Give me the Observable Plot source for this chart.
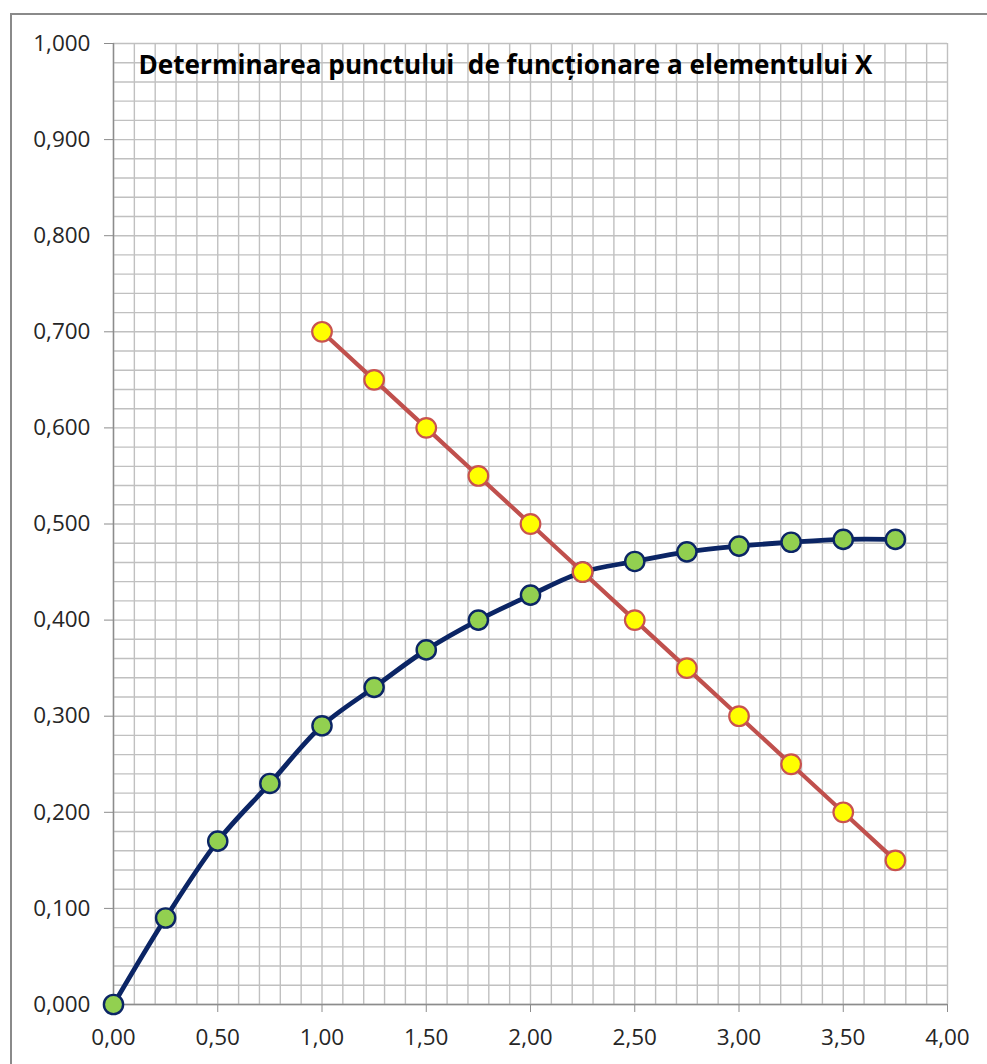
<!DOCTYPE html>
<html>
<head>
<meta charset="utf-8">
<script src="https://cdn.jsdelivr.net/npm/d3@7"></script>
<script src="https://cdn.jsdelivr.net/npm/@observablehq/plot@0.6"></script>
<style>
  html, body { margin: 0; padding: 0; background: #fff; overflow: hidden; }
  #wrap { position: relative; width: 987px; height: 1064px; }
  #frame { position: absolute; left: 10px; top: 13px; width: 1100px; height: 1200px;
           border: 2px solid #8a8a8a; pointer-events: none; }
</style>
</head>
<body>
<div id="wrap"><div id="frame"></div></div>
<script>
// Current through the element X (characteristic) and through the load line
const elementX = [0, 0.25, 0.5, 0.75, 1.0, 1.25, 1.5, 1.75, 2.0, 2.25, 2.5, 2.75, 3.0, 3.25, 3.5, 3.75];
const elementY = [0, 0.09, 0.17, 0.23, 0.29, 0.33, 0.369, 0.40, 0.426, 0.45, 0.461, 0.471, 0.477, 0.481, 0.484, 0.484];
const loadX = [1.0, 1.25, 1.5, 1.75, 2.0, 2.25, 2.5, 2.75, 3.0, 3.25, 3.5, 3.75];
const loadY = [0.70, 0.65, 0.60, 0.55, 0.50, 0.45, 0.40, 0.35, 0.30, 0.25, 0.20, 0.15];

const xTicks = [0, 0.5, 1.0, 1.5, 2.0, 2.5, 3.0, 3.5, 4.0];
const yTicks = [0, 0.1, 0.2, 0.3, 0.4, 0.5, 0.6, 0.7, 0.8, 0.9, 1.0];
const title = "Determinarea punctului  de funcționare a elementului X";

const elementData = elementX.map((x, i) => ({x, y: elementY[i]}));
const loadData = loadX.map((x, i) => ({x, y: loadY[i]}));

// comma as decimal separator
const fmtY = d => d3.format(".3f")(d).replace(".", ",");
const fmtX = d => d3.format(".2f")(d).replace(".", ",");

// fine grid: 0.1 on x, 0.02 on y
const gridX = d3.range(0, 41).map(i => i / 10);
const gridY = d3.range(0, 51).map(i => i / 50);

const chart = Plot.plot({
  width: 987,
  height: 1064,
  marginLeft: 113,
  marginRight: 40,
  marginTop: 43,
  marginBottom: 60,
  style: {fontFamily: "'Open Sans', sans-serif", fontSize: "22.5px", background: "transparent", color: "#262626"},
  x: {domain: [0, 4]},
  y: {domain: [0, 1]},
  marks: [
    Plot.ruleX(gridX, {stroke: "#c0c0c0", strokeWidth: 1.4}),
    Plot.ruleY(gridY, {stroke: "#c0c0c0", strokeWidth: 1.4}),
    Plot.ruleX([0], {stroke: "#8c8c8c", strokeWidth: 1.4}),
    Plot.ruleY([0], {stroke: "#8c8c8c", strokeWidth: 1.4}),
    Plot.axisY({ticks: yTicks, tickFormat: fmtY, tickSize: 9, tickPadding: 14, stroke: "#8c8c8c", fill: "#262626", label: null}),
    Plot.axisX({ticks: xTicks, tickFormat: fmtX, tickSize: 8, tickPadding: 17, stroke: "#8c8c8c", fill: "#262626", label: null}),
    Plot.line(elementData, {x: "x", y: "y", stroke: "#0b2565", strokeWidth: 4.8, curve: "catmull-rom"}),
    Plot.dot(elementData, {x: "x", y: "y", r: 9.6, fill: "#92d050", stroke: "#0b2565", strokeWidth: 2.4}),
    Plot.line(loadData, {x: "x", y: "y", stroke: "#c0504d", strokeWidth: 4.2}),
    Plot.dot(loadData, {x: "x", y: "y", r: 9.8, fill: "#ffff00", stroke: "#c9534f", strokeWidth: 2.2}),
    Plot.text([title], {frameAnchor: "top", dx: -25, dy: 12, fontSize: 26, fontWeight: "bold", fill: "#000"})
  ]
});

// stretch the title across its span
d3.select(chart).selectAll("text").filter(function() { return this.textContent === title; })
  .attr("textLength", 734).attr("lengthAdjust", "spacingAndGlyphs");

document.getElementById("wrap").prepend(chart);
chart.style.position = "absolute";
chart.style.left = "0";
chart.style.top = "0";
</script>
</body>
</html>
